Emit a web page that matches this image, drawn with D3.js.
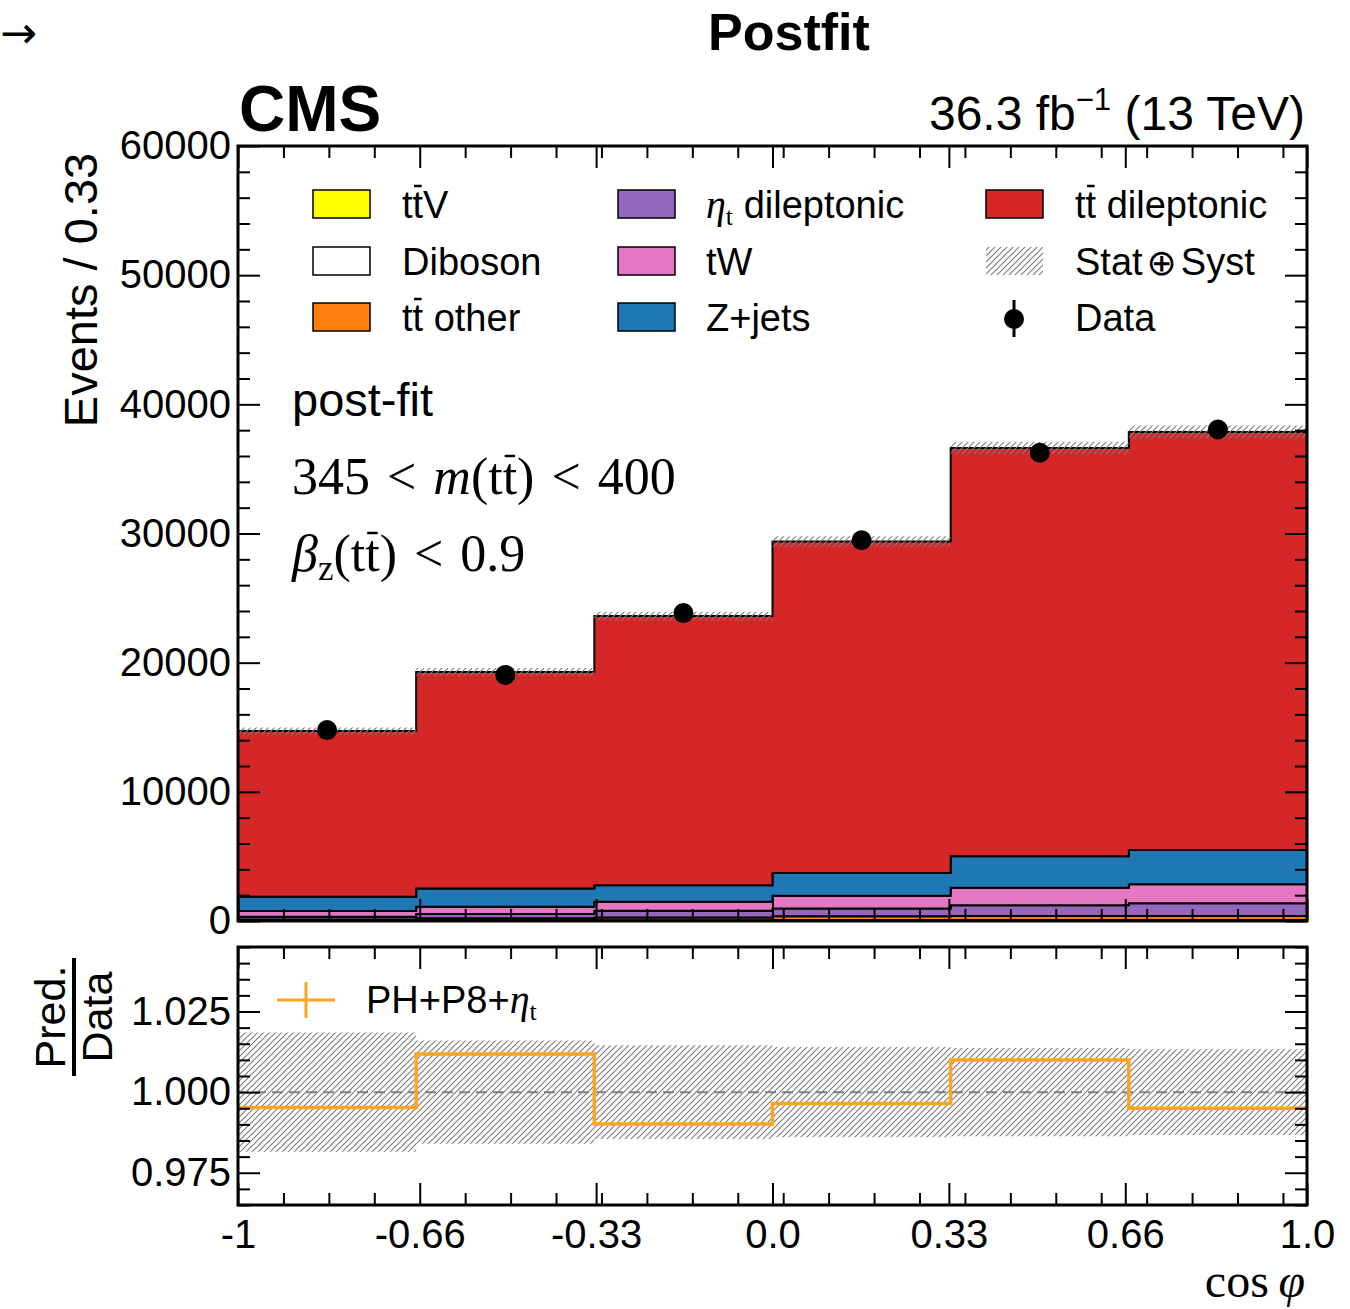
<!DOCTYPE html>
<html>
<head>
<meta charset="utf-8">
<script src="https://cdn.jsdelivr.net/npm/d3@7"></script>
<style>
  body { margin: 0; background: #fff; }
  svg { display: block; }
</style>
</head>
<body>
<svg id="chart" width="1350" height="1309" font-family="'Liberation Sans', Arial, Helvetica, sans-serif"></svg>
<script>
// ---- binning and axis ticks ----
const binEdges = [-1, -2 / 3, -1 / 3, 0, 1 / 3, 2 / 3, 1];
const xTickValues = [-1, -0.66, -0.33, 0, 0.33, 0.66, 1];
const xTickLabels = ["-1", "-0.66", "-0.33", "0.0", "0.33", "0.66", "1.0"];
const mainYTicks = [0, 10000, 20000, 30000, 40000, 50000, 60000];
const ratioYTicks = [0.975, 1.0, 1.025];

// ---- post-fit yields per bin of cos(phi), stacked bottom to top ----
const ttV        = [25, 30, 35, 40, 45, 45];
const diboson    = [20, 25, 30, 30, 35, 35];
const ttOther    = [80, 150, 200, 290, 310, 310];
const etaTDilep  = [200, 330, 520, 600, 820, 980];
const tW         = [450, 570, 700, 1000, 1360, 1470];
const zJets      = [1105, 1420, 1290, 1755, 2450, 2660];
const ttDilep    = [12830, 16750, 20830, 25660, 31590, 32360];

// observed events
const dataCounts = [14780, 19050, 23840, 29480, 36250, 38050];

// relative total uncertainty (stat + syst) of the prediction
const relUnc = [0.0185, 0.016, 0.0145, 0.014, 0.0137, 0.0133];

// ---- process definitions ----
const processes = [
  { key: "ttV",       values: ttV,       color: "#ffff00" },
  { key: "diboson",   values: diboson,   color: "#ffffff" },
  { key: "ttOther",   values: ttOther,   color: "#ff7f0e" },
  { key: "etaTDilep", values: etaTDilep, color: "#9467bd" },
  { key: "tW",        values: tW,        color: "#e377c2" },
  { key: "zJets",     values: zJets,     color: "#1f77b4" },
  { key: "ttDilep",   values: ttDilep,   color: "#d62728" }
];

const svg = d3.select("#chart");
const serif = "'Liberation Serif', 'Times New Roman', serif";

// ---- geometry ----
const X0 = 238, X1 = 1307;
const mainTop = 146, mainBottom = 921;
const ratioTop = 947, ratioBottom = 1205;

const x = d3.scaleLinear().domain([-1, 1]).range([X0, X1]);
const yMain = d3.scaleLinear().domain([0, 60000]).range([mainBottom, mainTop]);
const yRatio = d3.scaleLinear().domain([0.965, 1.045]).range([ratioBottom, ratioTop]);

// ---- defs: hatch and clip regions ----
const defs = svg.append("defs");
const hatch = defs.append("pattern")
  .attr("id", "hatch").attr("patternUnits", "userSpaceOnUse")
  .attr("width", 6).attr("height", 6);
hatch.append("path")
  .attr("d", "M-1,1 L1,-1 M0,6 L6,0 M5,7 L7,5")
  .attr("stroke", "#7a7a7a").attr("stroke-width", 1.1);

defs.append("clipPath").attr("id", "clipMain").append("rect")
  .attr("x", X0).attr("y", mainTop).attr("width", X1 - X0).attr("height", mainBottom - mainTop);
defs.append("clipPath").attr("id", "clipRatio").append("rect")
  .attr("x", X0).attr("y", ratioTop).attr("width", X1 - X0).attr("height", ratioBottom - ratioTop);

// ---- stacked histogram ----
const rows = d3.range(6).map(i => {
  const r = {};
  processes.forEach(p => { r[p.key] = p.values[i]; });
  return r;
});
const stacked = d3.stack().keys(processes.map(p => p.key))(rows);

// step points: one per lower bin edge plus the closing upper edge
function stepPoints(lo, hi) {
  const pts = d3.range(6).map(i => ({ x: binEdges[i], y0: lo(i), y1: hi(i) }));
  pts.push({ x: binEdges[6], y0: lo(5), y1: hi(5) });
  return pts;
}

const mainG = svg.append("g").attr("clip-path", "url(#clipMain)");
const stepArea = d3.area().curve(d3.curveStepAfter)
  .x(d => x(d.x)).y0(d => yMain(d.y0)).y1(d => yMain(d.y1));

stacked.forEach((layer, li) => {
  mainG.append("path")
    .attr("d", stepArea(stepPoints(i => layer[i][0], i => layer[i][1])))
    .attr("fill", processes[li].color)
    .attr("stroke", "#000").attr("stroke-width", 2)
    .attr("stroke-linejoin", "miter");
});

const totals = d3.range(6).map(i => d3.sum(processes, p => p.values[i]));

// uncertainty band on the total prediction
mainG.append("path")
  .attr("d", stepArea(stepPoints(i => totals[i] * (1 - relUnc[i]), i => totals[i] * (1 + relUnc[i]))))
  .attr("fill", "url(#hatch)").attr("stroke", "none");

// data points
const centers = d3.range(6).map(i => (binEdges[i] + binEdges[i + 1]) / 2);
mainG.selectAll("line.err").data(dataCounts).join("line")
  .attr("class", "err")
  .attr("x1", (d, i) => x(centers[i])).attr("x2", (d, i) => x(centers[i]))
  .attr("y1", d => yMain(d - Math.sqrt(d))).attr("y2", d => yMain(d + Math.sqrt(d)))
  .attr("stroke", "#000").attr("stroke-width", 2.5);
mainG.selectAll("circle.data").data(dataCounts).join("circle")
  .attr("class", "data")
  .attr("cx", (d, i) => x(centers[i])).attr("cy", d => yMain(d))
  .attr("r", 10).attr("fill", "#000");

// ---- ratio panel ----
const ratioG = svg.append("g").attr("clip-path", "url(#clipRatio)");
const ratio = totals.map((t, i) => t / dataCounts[i]);
const ratioArea = d3.area().curve(d3.curveStepAfter)
  .x(d => x(d.x)).y0(d => yRatio(d.y0)).y1(d => yRatio(d.y1));
ratioG.append("path")
  .attr("d", ratioArea(stepPoints(i => 1 - relUnc[i], i => 1 + relUnc[i])))
  .attr("fill", "url(#hatch)").attr("stroke", "none");
ratioG.append("line")
  .attr("x1", X0).attr("x2", X1).attr("y1", yRatio(1)).attr("y2", yRatio(1))
  .attr("stroke", "#808080").attr("stroke-width", 2).attr("stroke-dasharray", "11,6");
const ratioLine = d3.line().curve(d3.curveStepAfter).x(d => x(d.x)).y(d => yRatio(d.y));
const ratioPts = d3.range(6).map(i => ({ x: binEdges[i], y: ratio[i] }));
ratioPts.push({ x: binEdges[6], y: ratio[5] });
ratioG.append("path")
  .attr("d", ratioLine(ratioPts))
  .attr("fill", "none").attr("stroke", "#ffa41f").attr("stroke-width", 3.5);

// ---- ticks (inward on all four sides) ----
const xMinor = d3.range(1, 24).map(k => -1 + 0.085 * k)
  .filter(v => !xTickValues.some(m => Math.abs(m - v) < 1e-3));
const mainYMinor = d3.range(0, 60001, 2000).filter(v => v % 10000 !== 0);
const ratioYMinor = d3.range(0, 17).map(k => 0.965 + 0.005 * k)
  .filter(v => !ratioYTicks.some(m => Math.abs(m - v) < 1e-6));

function styleAxis(g) {
  g.select(".domain").remove();
  g.selectAll(".tick line").attr("stroke", "#000").attr("stroke-width", 2);
  g.selectAll(".tick text").attr("font-size", 40)
    .attr("font-family", "'Liberation Sans', Arial, sans-serif").attr("fill", "#000");
}

function panelTicks(yScale, top, bottom, yMajor, yMinor, yFmt, xLabels) {
  const major = 22, minor = 12;
  svg.append("g").attr("transform", `translate(0,${top})`)
    .call(d3.axisTop(x).tickValues(xTickValues).tickSize(-major).tickFormat("")).call(styleAxis);
  svg.append("g").attr("transform", `translate(0,${top})`)
    .call(d3.axisTop(x).tickValues(xMinor).tickSize(-minor).tickFormat("")).call(styleAxis);
  svg.append("g").attr("transform", `translate(0,${bottom})`)
    .call(d3.axisBottom(x).tickValues(xTickValues).tickSize(-major).tickPadding(15)
      .tickFormat(xLabels ? (d, i) => xTickLabels[i] : "")).call(styleAxis);
  svg.append("g").attr("transform", `translate(0,${bottom})`)
    .call(d3.axisBottom(x).tickValues(xMinor).tickSize(-minor).tickFormat("")).call(styleAxis);
  svg.append("g").attr("transform", `translate(${X0},0)`)
    .call(d3.axisLeft(yScale).tickValues(yMajor).tickSize(-major).tickPadding(7).tickFormat(yFmt)).call(styleAxis);
  svg.append("g").attr("transform", `translate(${X0},0)`)
    .call(d3.axisLeft(yScale).tickValues(yMinor).tickSize(-minor).tickFormat("")).call(styleAxis);
  svg.append("g").attr("transform", `translate(${X1},0)`)
    .call(d3.axisRight(yScale).tickValues(yMajor).tickSize(-major).tickFormat("")).call(styleAxis);
  svg.append("g").attr("transform", `translate(${X1},0)`)
    .call(d3.axisRight(yScale).tickValues(yMinor).tickSize(-minor).tickFormat("")).call(styleAxis);
  svg.append("rect")
    .attr("x", X0).attr("y", top).attr("width", X1 - X0).attr("height", bottom - top)
    .attr("fill", "none").attr("stroke", "#000").attr("stroke-width", 3);
}
panelTicks(yMain, mainTop, mainBottom, mainYTicks, mainYMinor, d3.format("d"), false);
panelTicks(yRatio, ratioTop, ratioBottom, ratioYTicks, ratioYMinor, d3.format(".3f"), true);

// ---- helper: bar over one character of a text element ----
function overbar(textSel, idx, yAbs, inset, width) {
  const node = textSel.node();
  const ext = node.getExtentOfChar(idx);
  d3.select(node.parentNode).append("line")
    .attr("x1", ext.x + inset).attr("x2", ext.x + ext.width - inset)
    .attr("y1", yAbs).attr("y2", yAbs)
    .attr("stroke", "#000").attr("stroke-width", width);
}

// ---- header texts ----
svg.append("text").attr("x", 0).attr("y", 48)
  .attr("font-family", "'DejaVu Sans', sans-serif").attr("font-size", 44).text("→");
svg.append("text").attr("x", 789).attr("y", 50).attr("text-anchor", "middle")
  .attr("font-size", 52).attr("font-weight", "bold").text("Postfit");
svg.append("text").attr("x", 239).attr("y", 131)
  .attr("font-size", 64).attr("font-weight", "bold").text("CMS");
const lumi = svg.append("text").attr("x", 1305).attr("y", 130).attr("text-anchor", "end")
  .attr("font-size", 48);
lumi.append("tspan").text("36.3 fb");
lumi.append("tspan").attr("font-size", 31).attr("dy", -20).text("−1");
lumi.append("tspan").attr("dy", 20).text(" (13 TeV)");

// ---- axis titles ----
svg.append("text").attr("transform", "translate(97,290) rotate(-90)")
  .attr("text-anchor", "middle").attr("font-size", 47).text("Events / 0.33");

const fracG = svg.append("g").attr("transform", "translate(74,1017) rotate(-90)");
fracG.append("text").attr("x", 0).attr("y", -9).attr("text-anchor", "middle")
  .attr("font-size", 43).text("Pred.");
fracG.append("text").attr("x", 0).attr("y", 38).attr("text-anchor", "middle")
  .attr("font-size", 43).text("Data");
fracG.append("line").attr("x1", -59).attr("x2", 59).attr("y1", 0).attr("y2", 0)
  .attr("stroke", "#000").attr("stroke-width", 4);

const xTitle = svg.append("text").attr("x", 1305).attr("y", 1297).attr("text-anchor", "end")
  .attr("font-family", serif).attr("font-size", 48);
xTitle.append("tspan").text("cos\u2009");
xTitle.append("tspan").attr("font-style", "italic").text("φ");

// ---- region annotations ----
svg.append("text").attr("x", 292).attr("y", 416).attr("font-size", 47).text("post-fit");

const massCut = svg.append("text").attr("x", 292).attr("y", 494)
  .attr("font-family", serif).attr("font-size", 52).attr("word-spacing", 4);
massCut.append("tspan").text("345 < ");
massCut.append("tspan").attr("font-style", "italic").text("m");
massCut.append("tspan").text("(tt) < 400");
overbar(massCut, 9, 494 - 38, 2, 2.5);

const betaCut = svg.append("text").attr("x", 292).attr("y", 571)
  .attr("font-family", serif).attr("font-size", 52).attr("word-spacing", 4);
betaCut.append("tspan").attr("font-style", "italic").text("β");
betaCut.append("tspan").attr("font-size", 35).attr("dy", 9).text("z");
betaCut.append("tspan").attr("dy", -9).text("(tt) < 0.9");
overbar(betaCut, 4, 571 - 38, 2, 2.5);

// ---- main legend ----
const legendRows = [204, 261, 317];
const legendCols = [{ box: 313, text: 402 }, { box: 618, text: 706 }, { box: 986, text: 1075 }];
const legG = svg.append("g");

function legendBox(col, row, fill, stroke) {
  legG.append("rect")
    .attr("x", legendCols[col].box).attr("y", legendRows[row] - 14)
    .attr("width", 57).attr("height", 28)
    .attr("fill", fill).attr("stroke", stroke ? "#000" : "none").attr("stroke-width", 1.5);
}
function legendText(col, row) {
  return legG.append("text").attr("x", legendCols[col].text).attr("y", legendRows[row] + 14)
    .attr("font-size", 38);
}

legendBox(0, 0, processes[0].color, true);
const tL0 = legendText(0, 0).text("ttV");
overbar(tL0, 1, legendRows[0] + 14 - 32, 1.5, 2.5);
legendBox(0, 1, processes[1].color, true);
legendText(0, 1).text("Diboson");
legendBox(0, 2, processes[2].color, true);
const tL2 = legendText(0, 2).text("tt other");
overbar(tL2, 1, legendRows[2] + 14 - 32, 1.5, 2.5);

legendBox(1, 0, processes[3].color, true);
const eta = legendText(1, 0);
eta.append("tspan").attr("font-family", serif).attr("font-style", "italic").attr("font-size", 40).text("η");
eta.append("tspan").attr("font-family", serif).attr("font-size", 26).attr("dy", 7).text("t");
eta.append("tspan").attr("dy", -7).text(" dileptonic");
legendBox(1, 1, processes[4].color, true);
legendText(1, 1).text("tW");
legendBox(1, 2, processes[5].color, true);
legendText(1, 2).text("Z+jets");

legendBox(2, 0, processes[6].color, true);
const tL6 = legendText(2, 0).text("tt dileptonic");
overbar(tL6, 1, legendRows[0] + 14 - 32, 1.5, 2.5);
legendBox(2, 1, "url(#hatch)", false);
const unc = legendText(2, 1);
unc.append("tspan").text("Stat");
unc.append("tspan").attr("font-family", "'DejaVu Sans', sans-serif").attr("font-size", 36).attr("dx", 4).text("⊕");
unc.append("tspan").attr("dx", 4).text("Syst");
legG.append("line").attr("x1", 1014).attr("x2", 1014)
  .attr("y1", legendRows[2] - 17).attr("y2", legendRows[2] + 20)
  .attr("stroke", "#000").attr("stroke-width", 3);
legG.append("circle").attr("cx", 1014).attr("cy", legendRows[2] + 2).attr("r", 10).attr("fill", "#000");
legendText(2, 2).text("Data");

// ---- ratio legend ----
svg.append("line").attr("x1", 277).attr("x2", 335).attr("y1", 1000).attr("y2", 1000)
  .attr("stroke", "#ffa41f").attr("stroke-width", 3);
svg.append("line").attr("x1", 306).attr("x2", 306).attr("y1", 982).attr("y2", 1018)
  .attr("stroke", "#ffa41f").attr("stroke-width", 3);
const phLabel = svg.append("text").attr("x", 366).attr("y", 1013).attr("font-size", 38);
phLabel.append("tspan").text("PH+P8+");
phLabel.append("tspan").attr("font-family", serif).attr("font-style", "italic").attr("font-size", 40).text("η");
phLabel.append("tspan").attr("font-family", serif).attr("font-size", 26).attr("dy", 7).text("t");
</script>
</body>
</html>
